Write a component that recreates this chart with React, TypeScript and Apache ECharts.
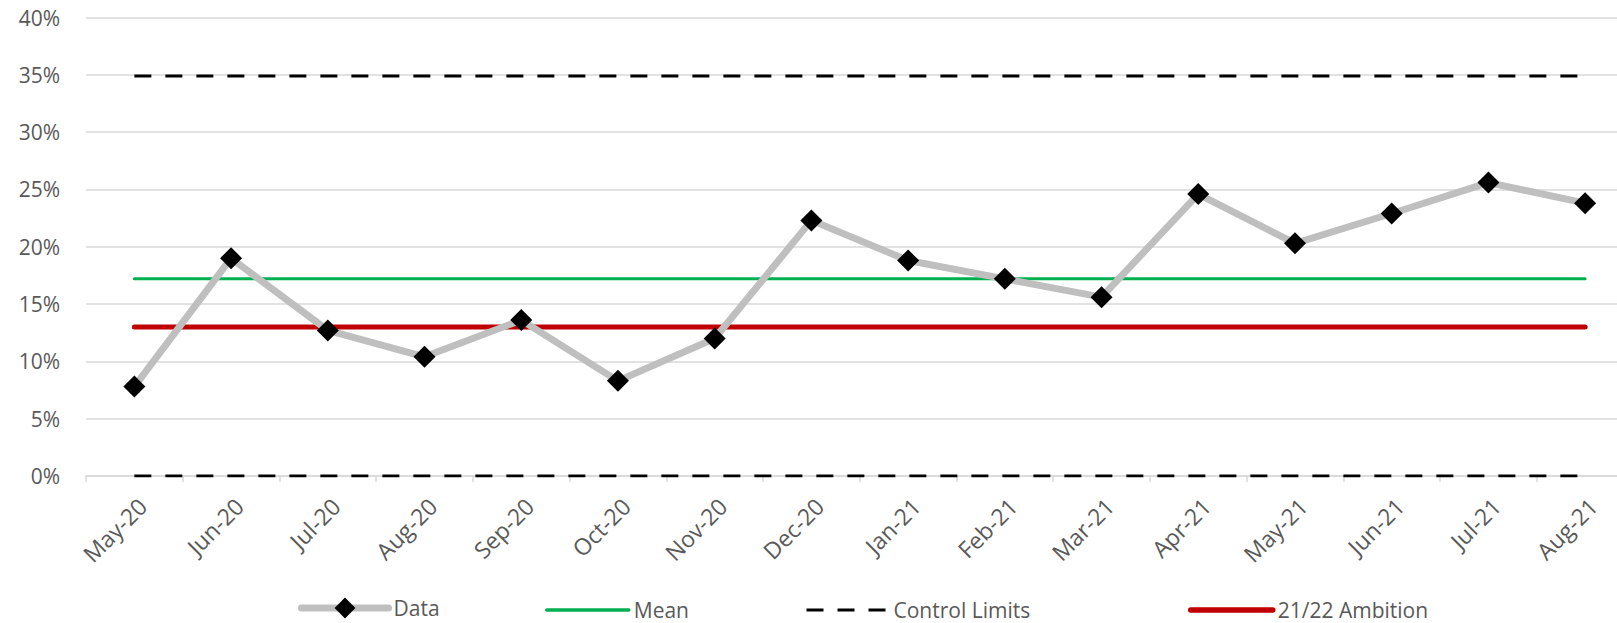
import React, { useEffect, useRef } from "react";
import * as echarts from "echarts";

// Monthly categories on the x axis
const months = [
  "May-20", "Jun-20", "Jul-20", "Aug-20", "Sep-20", "Oct-20", "Nov-20", "Dec-20",
  "Jan-21", "Feb-21", "Mar-21", "Apr-21", "May-21", "Jun-21", "Jul-21", "Aug-21",
];

// Observed monthly rate (%)
const dataValues = [7.8, 19.0, 12.7, 10.4, 13.6, 8.3, 12.0, 22.3, 18.8, 17.2, 15.6, 24.6, 20.3, 22.9, 25.6, 23.8];

// Reference levels (%)
const meanValue = 17.2;
const upperControlLimit = 34.9;
const lowerControlLimit = 0;
const ambitionValue = 13.0;

// Y axis range (%)
const yMin = 0;
const yMax = 40;
const yStep = 5;

const FONT = "'Open Sans', sans-serif";
const TEXT = "#595959";
const GRID = "#d9d9d9";
const DASH = [17, 14];

const flat = (v: number) => months.map(() => v);

export default function App() {
  const ref = useRef<HTMLDivElement>(null);

  useEffect(() => {
    if (!ref.current) return;
    const chart = echarts.init(ref.current, undefined, { renderer: "svg" });

    const legendText = { color: TEXT, fontSize: 21, fontFamily: FONT, lineHeight: 22 };
    const plainLegend = (left: number, name: string, lineStyle: object) => ({
      left,
      top: 599,
      padding: 0,
      itemWidth: 82,
      itemHeight: 20,
      itemGap: 0,
      selectedMode: false as const,
      textStyle: legendText,
      itemStyle: { opacity: 0 },
      lineStyle,
      data: [name],
    });

    chart.setOption({
      animation: false,
      backgroundColor: "#ffffff",
      grid: { left: 86, right: 26.5, top: 17.5, bottom: 147, containLabel: false },
      legend: [
        {
          left: 298,
          top: 597,
          padding: 0,
          itemWidth: 87,
          itemHeight: 26,
          selectedMode: false,
          textStyle: legendText,
          itemStyle: { color: "#000000" },
          lineStyle: { color: "#bfbfbf", width: 7, cap: "round" },
          data: ["Data"],
        },
        plainLegend(545, "Mean", { color: "#00b050", width: 3.5, cap: "round" }),
        plainLegend(805, "Control Limits", { color: "#000000", width: 3, type: DASH }),
        plainLegend(1188, "21/22 Ambition", { color: "#c00000", width: 5.5, cap: "round" }),
      ],
      xAxis: {
        type: "category",
        data: months,
        boundaryGap: true,
        axisLine: { show: true, lineStyle: { color: GRID, width: 1.5 } },
        axisTick: { show: true, interval: 0, length: 6, lineStyle: { color: GRID, width: 1.5 } },
        axisLabel: {
          interval: 0,
          rotate: 45,
          margin: 18,
          verticalAlign: "top",
          color: TEXT,
          fontSize: 23,
          fontFamily: FONT,
        },
        splitLine: { show: false },
      },
      yAxis: {
        type: "value",
        min: yMin,
        max: yMax,
        interval: yStep,
        axisLine: { show: false },
        axisTick: { show: false },
        axisLabel: {
          formatter: (v: number) => `${v}%`,
          margin: 26,
          color: TEXT,
          fontSize: 21,
          fontFamily: FONT,
        },
        splitLine: { show: true, lineStyle: { color: GRID, width: 1.5 } },
      },
      series: [
        {
          name: "Control Limits",
          type: "line",
          data: flat(upperControlLimit),
          symbol: "none",
          lineStyle: { color: "#000000", width: 3, type: DASH },
          z: 2,
        },
        {
          name: "Control Limits",
          type: "line",
          data: flat(lowerControlLimit),
          symbol: "none",
          lineStyle: { color: "#000000", width: 3, type: DASH },
          z: 2,
        },
        {
          name: "Mean",
          type: "line",
          data: flat(meanValue),
          symbol: "none",
          lineStyle: { color: "#00b050", width: 3, cap: "round" },
          z: 2,
        },
        {
          name: "21/22 Ambition",
          type: "line",
          data: flat(ambitionValue),
          symbol: "none",
          lineStyle: { color: "#c00000", width: 5, cap: "round" },
          z: 3,
        },
        {
          name: "Data",
          type: "line",
          data: dataValues,
          symbol: "diamond",
          symbolSize: 22,
          showAllSymbol: true,
          itemStyle: { color: "#000000" },
          lineStyle: { color: "#bfbfbf", width: 7, join: "round" },
          z: 4,
        },
      ],
    });

    return () => chart.dispose();
  }, []);

  return (
    <div
      style={{
        position: "absolute",
        left: 0,
        top: 0,
        width: 1617,
        height: 623,
        overflow: "hidden",
        background: "#ffffff",
      }}
    >
      <div ref={ref} style={{ width: 1660, height: 623 }} />
    </div>
  );
}
